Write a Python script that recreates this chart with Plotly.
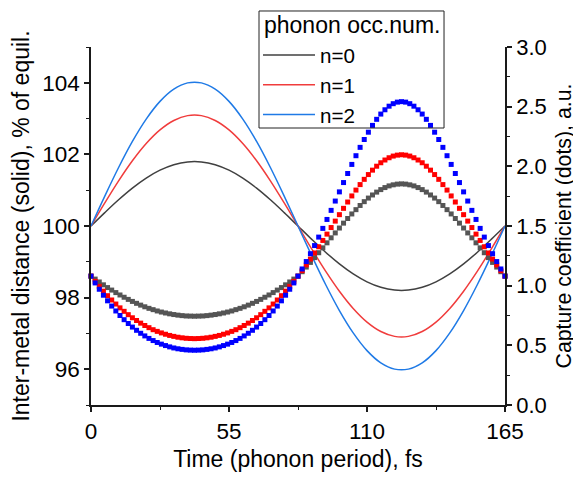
import numpy as np
import plotly.graph_objects as go

# ---- data ----
t_line = np.linspace(0, 165, 31)
dist_n0 = [100, 100.374, 100.732, 101.058, 101.338, 101.559, 101.712, 101.790, 101.790, 101.712, 101.559,
           101.338, 101.058, 100.732, 100.374, 100, 99.626, 99.268, 98.942, 98.662, 98.441, 98.288,
           98.210, 98.210, 98.288, 98.441, 98.662, 98.942, 99.268, 99.626, 100]
dist_n1 = [100, 100.644, 101.261, 101.822, 102.304, 102.685, 102.948, 103.083, 103.083, 102.948, 102.685,
           102.304, 101.822, 101.261, 100.644, 100, 99.356, 98.739, 98.178, 97.696, 97.315, 97.052,
           96.917, 96.917, 97.052, 97.315, 97.696, 98.178, 98.739, 99.356, 100]
dist_n2 = [100, 100.836, 101.635, 102.363, 102.987, 103.481, 103.823, 103.998, 103.998, 103.823, 103.481,
           102.987, 102.363, 101.635, 100.836, 100, 99.164, 98.365, 97.637, 97.013, 96.519, 96.177,
           96.002, 96.002, 96.177, 96.519, 97.013, 97.637, 98.365, 99.164, 100]

t_dots = np.linspace(0, 165, 101)
capt_n0 = [1.080, 1.055, 1.031, 1.007, 0.984, 0.963, 0.942, 0.922, 0.903, 0.885, 0.868, 0.852, 0.837,
           0.823, 0.810, 0.799, 0.788, 0.779, 0.771, 0.764, 0.758, 0.753, 0.749, 0.746, 0.745, 0.744,
           0.745, 0.746, 0.749, 0.753, 0.758, 0.764, 0.771, 0.779, 0.788, 0.799, 0.810, 0.823, 0.837,
           0.852, 0.868, 0.885, 0.903, 0.922, 0.942, 0.963, 0.984, 1.007, 1.031, 1.055, 1.080,
           1.117, 1.156, 1.195, 1.235, 1.276, 1.317, 1.359, 1.401, 1.442, 1.483, 1.524, 1.563, 1.601,
           1.637, 1.672, 1.704, 1.734, 1.760, 1.784, 1.805, 1.822, 1.836, 1.845, 1.851, 1.853,
           1.851, 1.845, 1.836, 1.822, 1.805, 1.784, 1.760, 1.734, 1.704, 1.672, 1.637, 1.601, 1.563,
           1.524, 1.483, 1.442, 1.401, 1.359, 1.317, 1.276, 1.235, 1.195, 1.156, 1.117, 1.080]
capt_n1 = [1.080, 1.036, 0.994, 0.954, 0.916, 0.880, 0.846, 0.814, 0.785, 0.757, 0.731, 0.708, 0.686,
           0.666, 0.648, 0.631, 0.617, 0.604, 0.593, 0.583, 0.575, 0.568, 0.563, 0.559, 0.557, 0.556,
           0.557, 0.559, 0.563, 0.568, 0.575, 0.583, 0.593, 0.604, 0.617, 0.631, 0.648, 0.666, 0.686,
           0.708, 0.731, 0.757, 0.785, 0.814, 0.846, 0.880, 0.916, 0.954, 0.994, 1.036, 1.080,
           1.126, 1.174, 1.223, 1.274, 1.326, 1.379, 1.432, 1.487, 1.541, 1.595, 1.648, 1.701, 1.752,
           1.801, 1.847, 1.891, 1.931, 1.968, 2.001, 2.030, 2.053, 2.072, 2.086, 2.094, 2.097,
           2.094, 2.086, 2.072, 2.053, 2.030, 2.001, 1.968, 1.931, 1.891, 1.847, 1.801, 1.752, 1.701,
           1.648, 1.595, 1.541, 1.487, 1.432, 1.379, 1.326, 1.274, 1.223, 1.174, 1.126, 1.080]
capt_n2 = [1.080, 1.023, 0.970, 0.920, 0.873, 0.829, 0.788, 0.750, 0.715, 0.683, 0.653, 0.626, 0.601,
           0.579, 0.558, 0.540, 0.524, 0.510, 0.498, 0.487, 0.478, 0.471, 0.466, 0.462, 0.460, 0.459,
           0.460, 0.462, 0.466, 0.471, 0.478, 0.487, 0.498, 0.510, 0.524, 0.540, 0.558, 0.579, 0.601,
           0.626, 0.653, 0.683, 0.715, 0.750, 0.788, 0.829, 0.873, 0.920, 0.970, 1.023, 1.080,
           1.140, 1.202, 1.268, 1.336, 1.407, 1.480, 1.555, 1.631, 1.709, 1.786, 1.864, 1.940, 2.016,
           2.089, 2.159, 2.225, 2.286, 2.343, 2.394, 2.438, 2.474, 2.504, 2.525, 2.538, 2.542,
           2.538, 2.525, 2.504, 2.474, 2.438, 2.394, 2.343, 2.286, 2.225, 2.159, 2.089, 2.016, 1.940,
           1.864, 1.786, 1.709, 1.631, 1.555, 1.480, 1.407, 1.336, 1.268, 1.202, 1.140, 1.080]

names = ["n=0", "n=1", "n=2"]
legend_title = "phonon occ.num."
x_ticks = [0, 55, 110, 165]

FONT = "Liberation Sans, Arial, sans-serif"
line_colors = ["#404040", "#F03C3C", "#1F7AE6"]
dot_colors = ["#555555", "#FF0000", "#0000FF"]
AX = "#1a1a1a"

fig = go.Figure()
for cap, col in zip([capt_n0, capt_n1, capt_n2], dot_colors):
    fig.add_trace(go.Scatter(x=t_dots, y=cap, yaxis="y2", mode="markers",
                             marker=dict(symbol="square", size=5, color=col, line=dict(width=0)),
                             showlegend=False, cliponaxis=False))
for d, col, nm in zip([dist_n0, dist_n1, dist_n2], line_colors, names):
    fig.add_trace(go.Scatter(x=t_line, y=d, mode="lines", name=nm,
                             line=dict(color=col, width=1.5, shape="spline")))


def axis_common(size):
    return dict(showgrid=False, zeroline=False, showline=True, linecolor=AX, linewidth=1.5,
                ticks="outside", ticklen=5, tickwidth=1.5, tickcolor=AX, automargin=False,
                tickfont=dict(family=FONT, size=size, color="black"))


# page body has an 8px margin, so the figure is drawn 8px smaller and offset by 8px
fig.update_layout(
    width=573, height=469,
    margin=dict(l=83, r=76, t=39, b=72),
    plot_bgcolor="white", paper_bgcolor="white",
    font=dict(family=FONT, size=22.5, color="black"),
    xaxis=dict(range=[0, 165], tickvals=x_ticks,
               minor=dict(tickvals=[27.5, 82.5, 137.5], ticks="outside", ticklen=3, tickwidth=1.2,
                          tickcolor=AX),
               title=dict(text="Time (phonon period), fs", font=dict(family=FONT, size=23), standoff=8),
               **axis_common(22.5)),
    yaxis=dict(range=[95, 105], tick0=96, dtick=2,
               minor=dict(tick0=95, dtick=1, ticks="outside", ticklen=3, tickwidth=1.2, tickcolor=AX),
               title=dict(text="Inter-metal distance (solid), % of equil.", font=dict(family=FONT, size=23),
                          standoff=12),
               **axis_common(22.5)),
    yaxis2=dict(range=[0, 3], tick0=0, dtick=0.5, tickformat=".1f", overlaying="y", side="right",
                minor=dict(tick0=0, dtick=0.25, ticks="outside", ticklen=3, tickwidth=1.2, tickcolor=AX),
                title=dict(text="Capture coefficient (dots), a.u.", font=dict(family=FONT, size=21.3),
                           standoff=10),
                **axis_common(22)),
    legend=dict(x=0.4034, y=1.0335, xanchor="left", yanchor="top",
                bgcolor="rgba(0,0,0,0)", borderwidth=0,
                font=dict(family=FONT, size=20.6, color="black"),
                itemwidth=52, tracegroupgap=0),
    shapes=[dict(type="rect", xref="paper", yref="paper", x0=0.4058, x1=0.8527, y0=0.7737, y1=1.1006,
                 line=dict(color="#222222", width=1), fillcolor="rgba(0,0,0,0)", layer="above")],
    annotations=[dict(text=legend_title, xref="paper", yref="paper", x=0.413, y=1.061,
                      xanchor="left", yanchor="middle", showarrow=False,
                      font=dict(family=FONT, size=23, color="black"))],
)

fig.write_html("out.html")
